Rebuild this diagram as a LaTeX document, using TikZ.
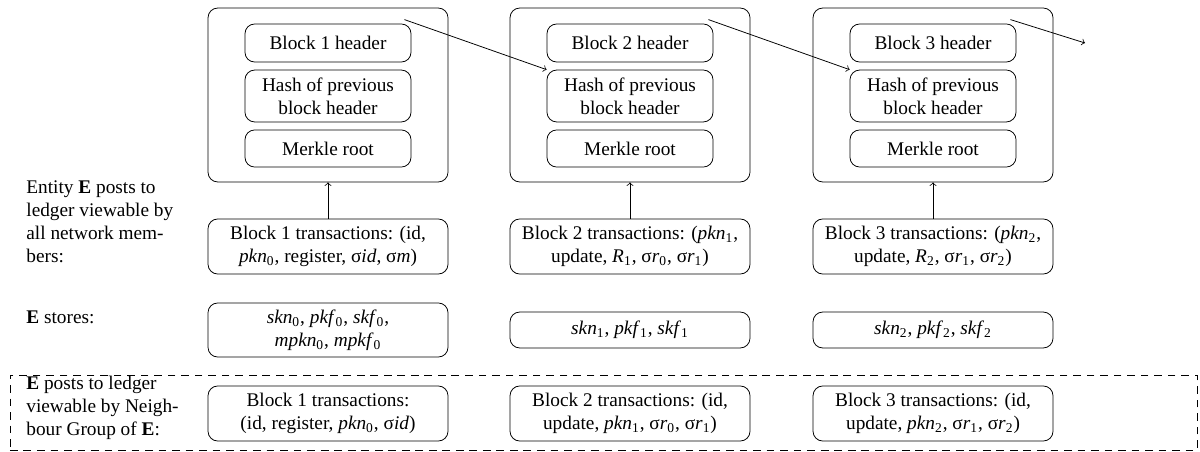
\documentclass[tikz,border=0pt]{standalone}
\usepackage{fontspec}
\setmainfont{Liberation Serif}
\newcommand{\myv}[2]{\textit{#1}\textsubscript{#2}}
\begin{document}
\begin{tikzpicture}[x=0.518pt,y=-0.518pt,
  font=\fontsize{10pt}{12pt}\selectfont,
  outerbox/.style={draw,rounded corners=5pt,minimum width=124.3pt,minimum height=90.1pt,inner sep=0pt},
  innerbox/.style={draw,rounded corners=5pt,minimum width=86pt,inner sep=0pt,align=center},
  wbox/.style={draw,rounded corners=5pt,minimum width=124.3pt,inner sep=0pt,align=center},
  lbl/.style={anchor=west,align=left,inner sep=0pt},
  arr/.style={->}]
\useasboundingbox (0,0) rectangle (1200,452);
% outer blocks
\node[outerbox] (b1) at (328,95) {};
\node[outerbox] (b2) at (630,95) {};
\node[outerbox] (b3) at (933,95) {};
% inner boxes
\node[innerbox,minimum height=19.7pt] (h1) at (328,43) {Block 1 header};
\node[innerbox,minimum height=26.9pt] (p1) at (328,96) {Hash of previous\\block header};
\node[innerbox,minimum height=19.2pt] (m1) at (328,148.5) {Merkle root};
\node[innerbox,minimum height=19.7pt] (h2) at (630,43) {Block 2 header};
\node[innerbox,minimum height=26.9pt] (p2) at (630,96) {Hash of previous\\block header};
\node[innerbox,minimum height=19.2pt] (m2) at (630,148.5) {Merkle root};
\node[innerbox,minimum height=19.7pt] (h3) at (933,43) {Block 3 header};
\node[innerbox,minimum height=26.9pt] (p3) at (933,96) {Hash of previous\\block header};
\node[innerbox,minimum height=19.2pt] (m3) at (933,148.5) {Merkle root};
\coordinate (next) at (1085,43);
% chain arrows
\draw[arr] ([shift={(-7,-4)}]h1.north east) -- (p2.north west);
\draw[arr] ([shift={(-5,-4)}]h2.north east) -- (p3.north west);
\draw[arr] ([shift={(-6,-4)}]h3.north east) -- (next);
% transactions (all members)
\node[wbox,minimum height=28.5pt] (t1) at (328,246.5) {Block 1 transactions: (id,\\\myv{pkn}{0}, register, σ\textit{id}, σ\textit{m})};
\node[wbox,minimum height=28.5pt] (t2) at (630,246.5) {Block 2 transactions: (\myv{pkn}{1},\\update, \myv{R}{1}, σ\myv{r}{0}, σ\myv{r}{1})};
\node[wbox,minimum height=28.5pt] (t3) at (933,246.5) {Block 3 transactions: (\myv{pkn}{2},\\update, \myv{R}{2}, σ\myv{r}{1}, σ\myv{r}{2})};
\draw[arr] (t1.north) -- (b1.south);
\draw[arr] (t2.north) -- (b2.south);
\draw[arr] (t3.north) -- (b3.south);
% stores
\node[wbox,minimum height=28pt] (s1) at (328,330) {\myv{skn}{0}, \myv{pkf}{0}, \myv{skf}{0},\\\myv{mpkn}{0}, \myv{mpkf}{0}};
\node[wbox,minimum height=18.6pt] (s2) at (630,330) {\myv{skn}{1}, \myv{pkf}{1}, \myv{skf}{1}};
\node[wbox,minimum height=18.6pt] (s3) at (933,330) {\myv{skn}{2}, \myv{pkf}{2}, \myv{skf}{2}};
% neighbour group
\node[wbox,minimum height=28.5pt] (n1) at (328,413.5) {Block 1 transactions:\\(id, register, \myv{pkn}{0}, σ\textit{id})};
\node[wbox,minimum height=28.5pt] (n2) at (630,413.5) {Block 2 transactions: (id,\\update, \myv{pkn}{1}, σ\myv{r}{0}, σ\myv{r}{1})};
\node[wbox,minimum height=28.5pt] (n3) at (933,413.5) {Block 3 transactions: (id,\\update, \myv{pkn}{2}, σ\myv{r}{1}, σ\myv{r}{2})};
\node[draw,dash pattern=on 4pt off 3pt,minimum width=614.9pt,minimum height=38.9pt,inner sep=0pt] (grp) at (603.5,412.5) {};
% left labels
\node[lbl] (l1) at (26,221.5) {Entity \textbf{E} posts to\\ledger viewable by\\all network mem-\\bers:};
\node[lbl] (l2) at (26,317) {\textbf{E} stores:};
\node[lbl] (l3) at (26,408) {\textbf{E} posts to ledger\\viewable by Neigh-\\bour Group of \textbf{E}:};
\end{tikzpicture}
\end{document}
